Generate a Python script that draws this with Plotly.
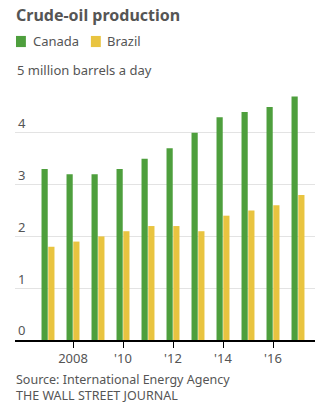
import plotly.graph_objects as go

# Crude-oil production, million barrels a day
years = [2007, 2008, 2009, 2010, 2011, 2012, 2013, 2014, 2015, 2016, 2017]
canada = [3.3, 3.2, 3.2, 3.3, 3.5, 3.7, 4.0, 4.3, 4.4, 4.5, 4.7]
brazil = [1.8, 1.9, 2.0, 2.1, 2.2, 2.2, 2.1, 2.4, 2.5, 2.6, 2.8]

x_tick_vals = [2008, 2010, 2012, 2014, 2016]
x_tick_text = ["2008", "'10", "'12", "'14", "'16"]
y_tick_vals = [0, 1, 2, 3, 4, 5]
y_tick_text = ["0", "1", "2", "3", "4", ""]
y_top_label = "5 million barrels a day"

GREEN = "#4e9f3d"
YELLOW = "#e9c440"
TEXT = "#555555"
FONT = "Noto Sans"

fig = go.Figure()
fig.add_trace(go.Bar(x=years, y=canada, name="Canada", marker_color=GREEN,
                     marker_line_width=0))
fig.add_trace(go.Bar(x=years, y=brazil, name="Brazil", marker_color=YELLOW,
                     marker_line_width=0))

fig.update_layout(
    width=326, height=409,
    margin=dict(l=15, r=11, t=81, b=69),
    paper_bgcolor="white", plot_bgcolor="white",
    font=dict(family=FONT, color=TEXT, size=13),
    barmode="group", bargap=0.46, bargroupgap=0.08,
    showlegend=False,
)

# chart title
fig.add_annotation(text="<b>Crude-oil production</b>", xref="paper", yref="paper",
                   x=0, y=1.253, xanchor="left", yanchor="middle", showarrow=False,
                   font=dict(size=16, color=TEXT), xshift=-1)

fig.update_xaxes(
    range=[2005.68, 2017.68],
    tickvals=x_tick_vals, ticktext=x_tick_text,
    ticks="outside", ticklen=6, tickcolor="black", tickwidth=1,
    showgrid=False, showline=True, linecolor="black", linewidth=1.5,
    tickfont=dict(size=13, color=TEXT), zeroline=False,
)
fig.update_yaxes(
    range=[0, 5], tickvals=y_tick_vals, ticktext=y_tick_text,
    ticklabelposition="inside top", ticks="",
    showgrid=True, gridcolor="#e3e3e3", gridwidth=1,
    zeroline=False, showline=False,
    tickfont=dict(size=13, color=TEXT),
)

# label on the top gridline
fig.add_annotation(text=y_top_label, xref="paper", yref="y", x=0, y=y_tick_vals[-1],
                   xanchor="left", yanchor="bottom", yshift=0, showarrow=False,
                   font=dict(size=13, color=TEXT))

# legend: colour swatches with series names
legend_items = [("Canada", GREEN, 0.0033, 0.053), ("Brazil", YELLOW, 0.253, 0.30)]
for name, color, sx, tx in legend_items:
    fig.add_shape(type="rect", xref="paper", yref="paper",
                  x0=sx, x1=sx + 0.033, y0=1.131, y1=1.174,
                  fillcolor=color, line_width=0)
    fig.add_annotation(text=name, xref="paper", yref="paper", x=tx, y=1.153,
                       xanchor="left", yanchor="middle", showarrow=False,
                       font=dict(size=13, color=TEXT))

fig.add_annotation(text="Source: International Energy Agency", xref="paper", yref="paper",
                   x=0, y=-0.154, xanchor="left", yanchor="middle", showarrow=False,
                   font=dict(size=12.5, color=TEXT), xshift=-1)
fig.add_annotation(text="THE WALL STREET JOURNAL", xref="paper", yref="paper",
                   x=0, y=-0.216, xanchor="left", yanchor="middle", showarrow=False,
                   font=dict(size=12.5, color=TEXT), xshift=-1)

fig.write_html("out.html")
